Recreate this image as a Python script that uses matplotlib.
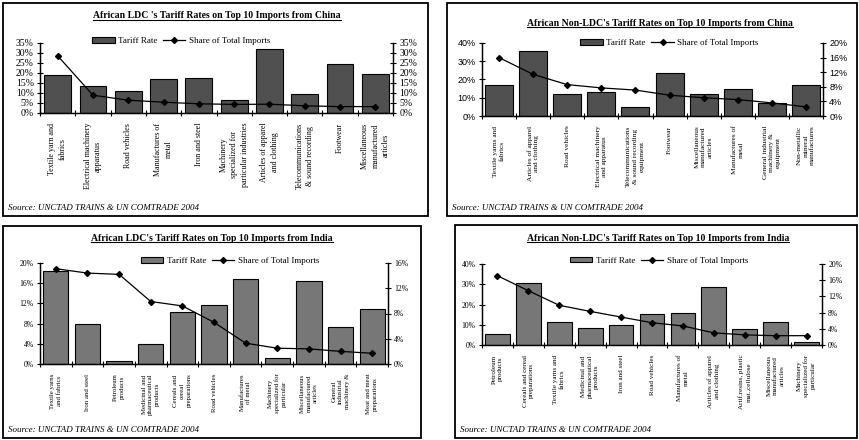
import numpy as np
import matplotlib
matplotlib.use("Agg")
import matplotlib.pyplot as plt
from matplotlib.patches import Rectangle
from matplotlib.lines import Line2D
from matplotlib.ticker import FuncFormatter, MultipleLocator, FixedLocator

W, H = 859, 440
SERIF = "Liberation Serif"
SANS = "Liberation Sans"

# African LDCs, imports from China
ldc_china_cats = ["Textile yarn and\nfabrics", "Electrical machinery\napparatus",
                  "Road vehicles", "Manufactures of\nmetal", "Iron and steel",
                  "Machinery\nspecialized for\nparticular industries",
                  "Articles of apparel\nand clothing",
                  "Telecommunications\n& sound recording", "Footwear",
                  "Miscellaneous\nmanufactured\narticles"]
ldc_china_tariff = [18.8, 13.3, 11.1, 16.9, 17.4, 6.6, 31.9, 9.4, 24.5, 19.5]
ldc_china_share = [28.6, 8.9, 6.4, 5.4, 4.6, 4.3, 4.4, 3.6, 3.2, 3.2]

# African non-LDCs, imports from China
nonldc_china_cats = ["Textile yarns and\nfabrics", "Articles of apparel\nand clothing",
                     "Road vehicles", "Electrical machinery\nand apparatus",
                     "Telecommunications\n& sound recording\nequipment", "Footwear",
                     "Miscellaneous\nmanufactured\narticles", "Manufactures of\nmetal",
                     "General industrial\nmachinery &\nequipment",
                     "Non-metallic\nmineral\nmanufactures"]
nonldc_china_tariff = [17.0, 35.5, 11.8, 13.0, 4.8, 23.5, 12.0, 15.0, 7.2, 17.0]
nonldc_china_share = [16.0, 11.4, 8.6, 7.7, 7.1, 5.7, 5.0, 4.5, 3.6, 2.5]

# African LDCs, imports from India
ldc_india_cats = ["Textile yarns\nand fabrics", "Iron and steel", "Petroleum\nproducts",
                  "Medicinal and\npharmaceutical\nproducts",
                  "Cereals and\ncereal\npreparations", "Road vehicles",
                  "Manufactures\nof metal", "Machinery\nspecialized for\nparticular",
                  "Miscellaneous\nmanufactured\narticles",
                  "General\nindustrial\nmachinery &", "Meat and meat\npreparations"]
ldc_india_tariff = [18.5, 8.0, 0.6, 4.0, 10.3, 11.7, 16.9, 1.1, 16.5, 7.4, 10.9]
ldc_india_share = [15.1, 14.4, 14.2, 9.9, 9.2, 6.6, 3.3, 2.5, 2.4, 2.0, 1.7]

# African non-LDCs, imports from India
nonldc_india_cats = ["Petroleum\nproducts", "Cereals and cereal\npreparations",
                     "Textile yarns and\nfabrics", "Medicinal and\npharmaceutical\nproducts",
                     "Iron and steel", "Road vehicles", "Manufactures of\nmetal",
                     "Articles of apparel\nand clothing",
                     "Artif.resins, plastic\nmat.,cellulose",
                     "Miscellaneous\nmanufactured\narticles",
                     "Machinery\nspecialized for\nparticular"]
nonldc_india_tariff = [5.6, 30.6, 11.2, 8.4, 9.8, 15.2, 16.0, 28.4, 7.8, 11.2, 1.3]
nonldc_india_share = [17.1, 13.4, 9.8, 8.3, 6.9, 5.5, 4.7, 3.0, 2.5, 2.3, 2.3]


def frac(l, t, r, b):
    return [l / W, 1 - b / H, (r - l) / W, (b - t) / H]


pct = FuncFormatter(lambda v, p: f"{v:.0f}%")


def panel(fig, box, axbox, title, title_xy, leg_xy, cats, tariff, share,
          lmax, lstep, rmax, rstep, barcolor, barwidth, tickfont, ticksize,
          catsize):
    # outer frame
    l, t, r, b = box
    fig.add_artist(Rectangle((l / W, 1 - b / H), (r - l) / W, (b - t) / H,
                             transform=fig.transFigure, fill=False,
                             edgecolor="black", lw=1.3))
    tt = fig.text(title_xy[0] / W, 1 - title_xy[1] / H, title, ha="center",
                  va="center", fontsize=7, fontweight="bold", family=SERIF)
    fig.text((l + 5) / W, 1 - (b - 8) / H, "Source: UNCTAD TRAINS & UN COMTRADE 2004",
             ha="left", va="center", fontsize=6.5, style="italic", family=SERIF)

    ax = fig.add_axes(frac(*axbox))
    x = np.arange(len(cats))
    ax.bar(x, tariff, width=barwidth, color=barcolor, edgecolor="black",
           linewidth=0.8, zorder=2)
    ax.set_xlim(-0.5, len(cats) - 0.5)
    ax.set_ylim(0, lmax)
    ax.yaxis.set_major_locator(MultipleLocator(lstep))
    ax.yaxis.set_major_formatter(pct)

    ax2 = ax.twinx()
    ax2.plot(x, share, color="black", lw=0.9, marker="D", markersize=3,
             zorder=3)
    ax2.set_ylim(0, rmax)
    ax2.yaxis.set_major_locator(MultipleLocator(rstep))
    ax2.yaxis.set_major_formatter(pct)

    ax.set_xticks(x)
    ax.set_xticklabels(cats, rotation=90, fontsize=catsize, family=SERIF,
                       linespacing=1.4, ha="center", va="top",
                       multialignment="center")
    ax.xaxis.set_minor_locator(FixedLocator(np.arange(len(cats) + 1) - 0.5))
    ax.tick_params(axis="x", which="major", length=0, pad=7)
    ax.tick_params(axis="x", which="minor", length=5, direction="inout",
                   width=0.8)
    for a in (ax, ax2):
        a.spines["top"].set_visible(False)
        for s in ("left", "right", "bottom"):
            a.spines[s].set_linewidth(0.9)
    ax.tick_params(axis="y", length=5, direction="inout", width=0.8,
                   labelsize=ticksize, pad=2)
    ax2.tick_params(axis="y", length=5, direction="inout", width=0.8,
                    labelsize=ticksize, pad=2)
    for lab in ax.get_yticklabels() + ax2.get_yticklabels():
        lab.set_family(tickfont)

    handles = [Rectangle((0, 0), 1, 1, facecolor=barcolor, edgecolor="black",
                         lw=0.8),
               Line2D([], [], color="black", lw=0.9, marker="D", markersize=3)]
    ax2.legend(handles, ["Tariff Rate", "Share of Total Imports"], loc="center",
               bbox_to_anchor=leg_xy, ncol=2, frameon=False,
               prop={"family": SERIF, "size": 6.5}, handlelength=2.5,
               handleheight=0.6, columnspacing=0.6, handletextpad=0.4)
    return tt


fig = plt.figure(figsize=(W / 100, H / 100), dpi=100)

titles = []
titles.append(panel(fig, (3, 3, 428, 216), (40, 43, 393, 113),
                    "African LDC 's Tariff Rates on Top 10 Imports from China",
                    (217, 16), (0.40, 1.03), ldc_china_cats, ldc_china_tariff,
                    ldc_china_share, 35, 5, 35, 5, "#505050", 0.76, SERIF, 7, 5.8))
titles.append(panel(fig, (447, 3, 857, 216), (482, 43, 823, 116),
                    "African Non-LDC's Tariff Rates on Top 10 Imports from China",
                    (660, 23), (0.55, 1.0), nonldc_china_cats, nonldc_china_tariff,
                    nonldc_china_share, 40, 10, 20, 4, "#505050", 0.82, SANS, 6.5, 5.3))
titles.append(panel(fig, (3, 226, 421, 438), (40, 263, 388, 364),
                    "African LDC's Tariff Rates on Top 10 Imports from India",
                    (212, 238), (0.546, 1.02), ldc_india_cats, ldc_india_tariff,
                    ldc_india_share, 20, 4, 16, 4, "#777777", 0.8, SERIF, 5.5, 4.9))
titles.append(panel(fig, (455, 225, 857, 438), (482, 264, 822, 345),
                    "African Non-LDC's Tariff Rates on Top 10 Imports from India",
                    (658, 238), (0.52, 1.04), nonldc_india_cats, nonldc_india_tariff,
                    nonldc_india_share, 40, 10, 20, 4, "#777777", 0.8, SERIF, 5.5, 5.1))

# underline the panel titles
fig.canvas.draw()
inv = fig.transFigure.inverted()
for tt in titles:
    bb = tt.get_window_extent().transformed(inv)
    fig.add_artist(Line2D([bb.x0, bb.x1], [bb.y0 + 0.002, bb.y0 + 0.002],
                          transform=fig.transFigure, color="black", lw=0.8))

fig.savefig("out.png", dpi=100)
